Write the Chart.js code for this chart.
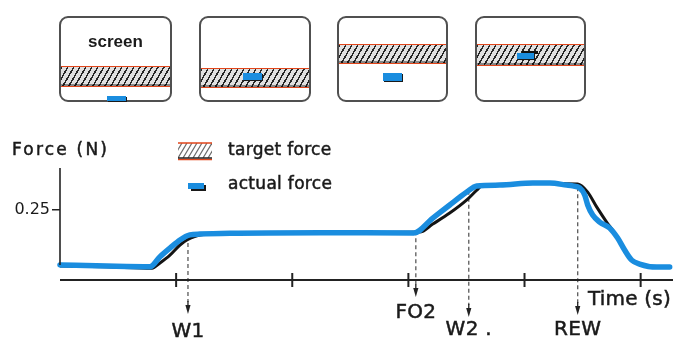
<!DOCTYPE html>
<html>
<head>
<meta charset="utf-8">
<script src="https://cdn.jsdelivr.net/npm/chart.js@4.4.1/dist/chart.umd.min.js"></script>
<style>
  html, body { margin: 0; padding: 0; background: #fff; }
  #wrap { position: relative; width: 675px; height: 341px; overflow: hidden; }
  #chart { position: absolute; left: 0; top: 0; }
  .scr {
    position: absolute; top: 16px; height: 86px; box-sizing: border-box;
    border: 2px solid #505050; border-radius: 9px; background: #fff;
  }
  .band {
    position: absolute; left: 0; right: 0; box-sizing: border-box;
    border-top: 1.5px solid #e2461b; border-bottom: 1.5px solid #e2461b;
    background: repeating-linear-gradient(120deg, #262626 0 1.5px, #e0e0e0 1.5px 5.2px);
    box-shadow: inset 0 -2px 0 rgba(0,0,0,0.4);
  }
  .cursor { position: absolute; background: #1a8ddf; box-shadow: 1px 1px 0 #1a1a1a; }
  .mark { position: absolute; background: #111; }
  .scrLabel {
    position: absolute; left: 0; right: 0; top: 14px; text-align: center;
    font: bold 17px "Liberation Sans", Arial, sans-serif; color: #1a1a1a;
  }
</style>
</head>
<body>
<div id="wrap">
  <canvas id="chart" width="675" height="341"></canvas>
</div>
<script>
// Force traces (time in s, force in N)
const actualTime  = [0, 0.40, 0.775, 0.861, 0.947, 1.033, 1.119, 1.205, 1.463, 2.238, 3.046, 3.210, 3.356, 3.503, 3.589, 3.787, 4.071, 4.217, 4.363, 4.415, 4.475, 4.518, 4.544, 4.587, 4.647, 4.733, 4.802, 4.862, 4.923, 4.991, 5.138, 5.250];
const actualForce = [0.054, 0.050, 0.0475, 0.083, 0.114, 0.143, 0.161, 0.164, 0.167, 0.169, 0.168, 0.221, 0.268, 0.314, 0.336, 0.339, 0.346, 0.346, 0.339, 0.336, 0.329, 0.304, 0.268, 0.232, 0.207, 0.186, 0.150, 0.107, 0.071, 0.057, 0.046, 0.046];
const targetTime  = [0, 0.40, 0.792, 0.861, 0.947, 1.033, 1.093, 1.205, 1.463, 2.238, 3.098, 3.210, 3.356, 3.503, 3.589, 3.632, 3.787, 4.071, 4.217, 4.458, 4.544, 4.621, 4.707, 4.776, 4.845, 4.905, 4.966, 5.103, 5.250];
const targetForce = [0.050, 0.047, 0.042, 0.061, 0.089, 0.125, 0.143, 0.161, 0.167, 0.169, 0.171, 0.200, 0.239, 0.286, 0.321, 0.336, 0.339, 0.345, 0.345, 0.343, 0.314, 0.261, 0.207, 0.168, 0.118, 0.079, 0.061, 0.046, 0.045];

// Axis ticks
const xTickValues = [1, 2, 3, 4, 5];
const yTickValues = [0.25];

// Trial events
const eventTime  = [1.102, 3.064, 3.52, 4.458];
const eventLabel = ['W1', 'FO2', 'W2 .', 'REW'];

// Layout of the event arrows and their labels (pixels)
const eventTipY   = [314, 297, 317, 315];
const eventLabelY = [332, 313, 330, 330];

// Feedback screen sketches above the plot (pixels, relative to each box)
const screenBoxes = [
  { left: 59,  width: 113, band: [51, 70], cursor: [48, 80, 19, 5], text: 'screen' },
  { left: 199, width: 112, band: [53, 71], cursor: [44, 57, 19, 7] },
  { left: 337, width: 111, band: [29, 47], cursor: [46, 57, 19, 8] },
  { left: 475, width: 111, band: [29, 49], cursor: [42, 37, 17, 6], mark: [47, 35, 16, 2.5] }
];

const FONT = '"DejaVu Sans", sans-serif';
const INK = '#1a1a1a';
const BLUE = '#1a8ddf';
const RED = '#e2461b';

// Build the screen sketches
const wrap = document.getElementById('wrap');
screenBoxes.forEach(s => {
  const box = document.createElement('div');
  box.className = 'scr';
  box.style.left = s.left + 'px';
  box.style.width = s.width + 'px';
  const band = document.createElement('div');
  band.className = 'band';
  band.style.top = (s.band[0] - 2.75) + 'px';
  band.style.height = (s.band[1] - s.band[0] + 1.5) + 'px';
  box.appendChild(band);
  if (s.mark) {
    const m = document.createElement('div');
    m.className = 'mark';
    m.style.left = (s.mark[0] - 2) + 'px';
    m.style.top = (s.mark[1] - 2) + 'px';
    m.style.width = s.mark[2] + 'px';
    m.style.height = s.mark[3] + 'px';
    box.appendChild(m);
  }
  const c = document.createElement('div');
  c.className = 'cursor';
  c.style.left = (s.cursor[0] - 2) + 'px';
  c.style.top = (s.cursor[1] - 2) + 'px';
  c.style.width = s.cursor[2] + 'px';
  c.style.height = s.cursor[3] + 'px';
  box.appendChild(c);
  if (s.text) {
    const t = document.createElement('div');
    t.className = 'scrLabel';
    t.textContent = s.text;
    box.appendChild(t);
  }
  wrap.appendChild(box);
});

function interpolate(ts, vs, t) {
  for (let i = 1; i < ts.length; i++) {
    if (t <= ts[i]) {
      const f = (t - ts[i - 1]) / (ts[i] - ts[i - 1]);
      return vs[i - 1] + f * (vs[i] - vs[i - 1]);
    }
  }
  return vs[vs.length - 1];
}

// Text with a hairline outline so the strokes read a little heavier
function drawText(ctx, text, x, y, size, align, spacing) {
  ctx.save();
  ctx.font = size + 'px ' + FONT;
  ctx.fillStyle = INK;
  ctx.strokeStyle = INK;
  ctx.lineWidth = 0.5;
  ctx.textAlign = align;
  ctx.textBaseline = 'middle';
  ctx.letterSpacing = (spacing || 0) + 'px';
  ctx.fillText(text, x, y);
  ctx.strokeText(text, x, y);
  ctx.restore();
}

const figureOverlay = {
  id: 'figureOverlay',
  beforeDatasetsDraw(chart) {
    const ctx = chart.ctx;
    const xs = chart.scales.x, ys = chart.scales.y;
    eventTime.forEach((t, i) => {
      const x = xs.getPixelForValue(t);
      const y0 = ys.getPixelForValue(interpolate(actualTime, actualForce, t));
      const tip = eventTipY[i];
      ctx.save();
      ctx.strokeStyle = '#5a5a5a';
      ctx.lineWidth = 1.3;
      ctx.setLineDash([4, 3]);
      ctx.beginPath();
      ctx.moveTo(x, y0);
      ctx.lineTo(x, tip - 12);
      ctx.stroke();
      ctx.setLineDash([]);
      ctx.strokeStyle = '#222';
      ctx.beginPath();
      ctx.moveTo(x, tip - 13);
      ctx.lineTo(x, tip - 7);
      ctx.stroke();
      ctx.fillStyle = '#222';
      ctx.beginPath();
      ctx.moveTo(x - 2.6, tip - 9);
      ctx.lineTo(x + 2.6, tip - 9);
      ctx.lineTo(x, tip);
      ctx.closePath();
      ctx.fill();
      ctx.restore();
    });
  },
  afterDraw(chart) {
    const ctx = chart.ctx;
    const a = chart.chartArea;
    const xs = chart.scales.x, ys = chart.scales.y;

    // axis lines
    ctx.save();
    ctx.strokeStyle = '#222';
    ctx.lineWidth = 1.6;
    ctx.beginPath();
    ctx.moveTo(a.left, a.top);
    ctx.lineTo(a.left, ys.getPixelForValue(actualForce[0]));
    ctx.stroke();
    ctx.lineWidth = 2;
    ctx.beginPath();
    ctx.moveTo(a.left, a.bottom);
    ctx.lineTo(a.right + 1, a.bottom);
    ctx.stroke();
    // crossing x ticks
    xTickValues.forEach(v => {
      const x = xs.getPixelForValue(v);
      ctx.beginPath();
      ctx.moveTo(x, a.bottom - 7);
      ctx.lineTo(x, a.bottom + 7);
      ctx.stroke();
    });
    ctx.restore();

    // event labels
    eventTime.forEach((t, i) => {
      drawText(ctx, eventLabel[i], xs.getPixelForValue(t), eventLabelY[i], 20, 'center', 0.3);
    });

    // axis titles
    drawText(ctx, 'Force (N)', 12, 151, 17, 'left', 2.2);
    drawText(ctx, 'Time (s)', 588, 300, 20, 'left', 0.2);

    // legend: hatched band for the target, blue bar for the actual trace
    const sx = 178, sy = 143, sw = 34, sh = 15;
    ctx.save();
    ctx.beginPath();
    ctx.rect(sx, sy, sw, sh);
    ctx.clip();
    ctx.strokeStyle = '#6a6a6a';
    ctx.lineWidth = 1.2;
    for (let x = sx - 10; x < sx + sw + 10; x += 5) {
      ctx.beginPath();
      ctx.moveTo(x, sy + sh);
      ctx.lineTo(x + 9, sy);
      ctx.stroke();
    }
    ctx.restore();
    ctx.save();
    ctx.lineWidth = 1.5;
    ctx.strokeStyle = RED;
    ctx.beginPath();
    ctx.moveTo(sx, sy); ctx.lineTo(sx + sw, sy);
    ctx.moveTo(sx, sy + sh + 1.5); ctx.lineTo(sx + sw, sy + sh + 1.5);
    ctx.stroke();
    ctx.strokeStyle = '#222';
    ctx.beginPath();
    ctx.moveTo(sx, sy + sh); ctx.lineTo(sx + sw, sy + sh);
    ctx.stroke();
    ctx.fillStyle = '#1a1a1a';
    ctx.fillRect(191, 185, 15, 6);
    ctx.fillStyle = BLUE;
    ctx.fillRect(188, 183, 16, 6);
    ctx.restore();

    const ds = chart.data.datasets;
    drawText(ctx, ds[1].label, 228, 151, 17, 'left', 0.3);
    drawText(ctx, ds[0].label, 228, 185, 17, 'left', 0.3);
  }
};

new Chart(document.getElementById('chart'), {
  type: 'line',
  data: {
    datasets: [
      {
        label: 'actual force',
        data: actualTime.map((t, i) => ({ x: t, y: actualForce[i] })),
        borderColor: BLUE,
        borderWidth: 5.5,
        pointRadius: 0,
        cubicInterpolationMode: 'monotone',
        borderCapStyle: 'round',
        borderJoinStyle: 'round',
        clip: false
      },
      {
        label: 'target force',
        data: targetTime.map((t, i) => ({ x: t, y: targetForce[i] })),
        borderColor: '#141414',
        borderWidth: 3,
        pointRadius: 0,
        cubicInterpolationMode: 'monotone',
        clip: false
      }
    ]
  },
  options: {
    responsive: false,
    devicePixelRatio: 1,
    animation: false,
    layout: { padding: { top: 168, right: 3, bottom: 61, left: 0 } },
    plugins: { legend: { display: false }, tooltip: { enabled: false } },
    scales: {
      x: {
        type: 'linear', min: 0, max: 5.27,
        grid: { display: false },
        ticks: { display: false },
        border: { display: false },
        afterFit(s) { s.height = 0; }
      },
      y: {
        min: 0, max: 0.4,
        afterFit(s) { s.width = 60; },
        afterBuildTicks(s) { s.ticks = yTickValues.map(v => ({ value: v })); },
        ticks: {
          font: { family: FONT, size: 16 },
          color: INK,
          padding: 2,
          callback: v => v.toFixed(2)
        },
        grid: { drawOnChartArea: false, drawTicks: true, tickLength: 8, color: '#222', lineWidth: 1.5 },
        border: { display: false }
      }
    }
  },
  plugins: [figureOverlay]
});
</script>
</body>
</html>
